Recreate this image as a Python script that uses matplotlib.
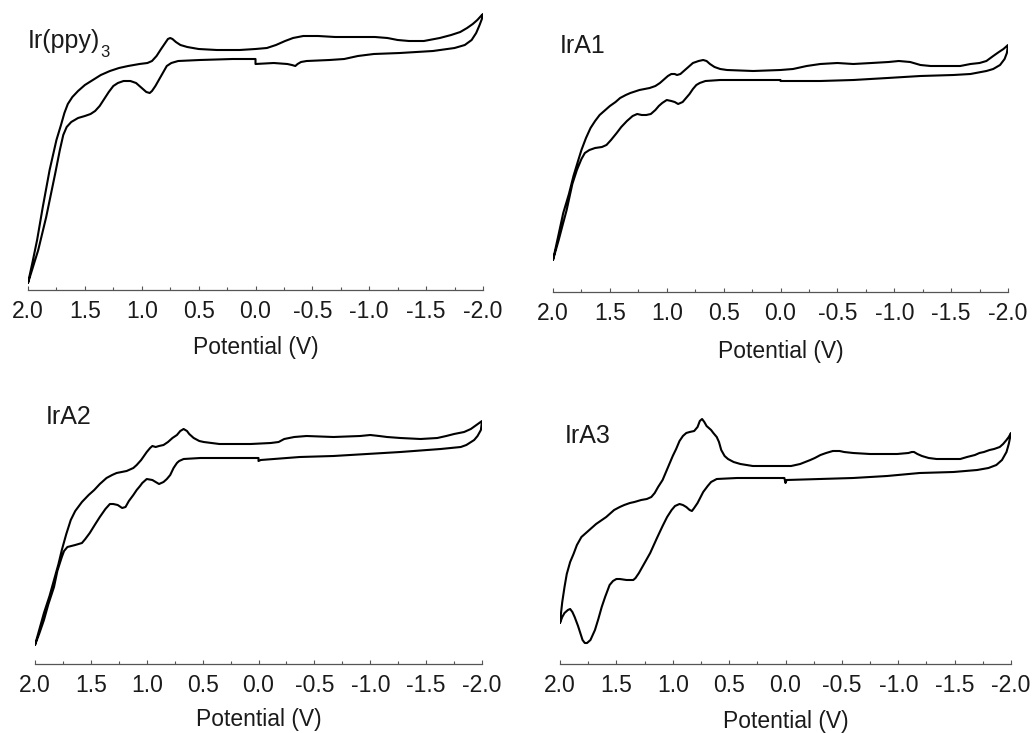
import matplotlib
matplotlib.use("Agg")
import matplotlib.pyplot as plt
from matplotlib.ticker import MultipleLocator

plt.rcParams['font.family'] = ['Liberation Sans', 'DejaVu Sans']

# ---------------- data (potential in V, current in arbitrary units) ----------------
names = ["Ir(ppy)", "IrA1", "IrA2", "IrA3"]
name_subscripts = ["3", "", "", ""]
x_ticks = [2.0, 1.5, 1.0, 0.5, 0.0, -0.5, -1.0, -1.5, -2.0]
x_ticklabels = ["2.0", "1.5", "1.0", "0.5", "0.0", "-0.5", "-1.0", "-1.5", "-2.0"]
x_label = "Potential (V)"

v_irppy = [2.00, 1.96, 1.92, 1.87, 1.81, 1.75, 1.71, 1.68, 1.65, 1.61, 1.56, 1.50, 1.43, 1.36,
           1.28, 1.20, 1.12, 1.02, 0.95, 0.91, 0.87, 0.83, 0.80, 0.77, 0.75, 0.73, 0.70, 0.66,
           0.60, 0.50, 0.34, 0.14, 0.00, -0.10, -0.18, -0.26, -0.33, -0.42, -0.55, -0.70,
           -0.90, -1.05, -1.16, -1.25, -1.35, -1.48, -1.62, -1.72, -1.80, -1.86, -1.91, -1.95,
           -1.99, -2.00,
           -1.99, -1.97, -1.94, -1.90, -1.84, -1.75, -1.56, -1.27, -1.04, -0.90, -0.78, -0.65,
           -0.45, -0.40, -0.37, -0.35, -0.32, -0.28, -0.16, 0.00, 0.00, 0.20, 0.49, 0.68, 0.74,
           0.78, 0.81, 0.85, 0.88, 0.91, 0.93, 0.96, 1.00, 1.05, 1.10, 1.16, 1.21, 1.25, 1.29,
           1.33, 1.37, 1.41, 1.45, 1.50, 1.56, 1.62, 1.66, 1.69, 1.72, 1.76, 1.80, 1.84, 1.91,
           2.00]
i_irppy = [7, 28, 50, 83, 120, 150, 165, 177, 186, 193, 199, 205, 210, 215,
           219, 222, 224, 226, 227, 229, 234, 241, 246, 251, 252, 251, 248, 245,
           243, 241, 240, 240, 241, 242, 245, 249, 252, 254, 254, 253,
           253, 253, 252, 250, 249, 249, 252, 255, 258, 262, 266, 270,
           275, 276,
           271, 265, 257, 250, 245, 242, 239, 237, 236, 234, 231, 230,
           229, 228, 226, 224, 225, 226, 227, 226, 231, 231, 230, 229, 227,
           224, 218, 210, 204, 199, 197, 198, 202, 207, 209, 209, 207, 204, 198,
           191, 184, 179, 176, 174, 172, 168, 163, 155, 140, 117, 95, 73, 40,
           7]

v_ira1 = [2.00, 1.95, 1.91, 1.86, 1.82, 1.78, 1.75, 1.71, 1.67, 1.63, 1.59, 1.54, 1.50, 1.45,
          1.41, 1.36, 1.32, 1.24, 1.15, 1.10, 1.06, 1.02, 0.99, 0.96, 0.93, 0.91, 0.88, 0.85,
          0.81, 0.77, 0.72, 0.68, 0.65, 0.62, 0.58, 0.53, 0.47, 0.24, 0.00, -0.11, -0.23,
          -0.35, -0.50, -0.64, -0.80, -0.95, -1.04, -1.14, -1.23, -1.32, -1.45, -1.58, -1.67,
          -1.75, -1.81, -1.87, -1.92, -1.96, -2.00,
          -1.99, -1.97, -1.93, -1.87, -1.81, -1.67, -1.52, -1.23, -0.94, -0.64, -0.35, 0.00,
          0.00, 0.24, 0.53, 0.66, 0.71, 0.74, 0.77, 0.80, 0.83, 0.86, 0.90, 0.93, 0.96, 1.00,
          1.04, 1.07, 1.10, 1.14, 1.18, 1.22, 1.26, 1.30, 1.35, 1.40, 1.44, 1.49, 1.53, 1.57,
          1.63, 1.68, 1.72, 1.75, 1.79, 1.83, 1.88, 1.92, 1.95, 2.00]
i_ira1 = [32, 58, 79, 98, 116, 131, 142, 154, 164, 171, 177, 182, 186, 190,
          194, 197, 199, 202, 204, 206, 209, 213, 216, 218, 218, 217, 218, 221,
          225, 229, 231, 232, 231, 228, 225, 223, 222, 221, 222, 223, 226,
          228, 229, 228, 229, 230, 231, 230, 227, 226, 226, 226, 228,
          229, 231, 236, 240, 243, 247,
          239, 233, 227, 223, 221, 218, 217, 216, 214, 212, 211, 211,
          212, 212, 212, 211, 209, 207, 203, 198, 194, 190, 188, 190, 191, 192,
          189, 186, 182, 178, 177, 177, 178, 176, 171, 165, 159, 152, 147, 145,
          144, 142, 139, 133, 122, 108, 82, 65, 52, 32]

v_ira2 = [2.00, 1.96, 1.92, 1.87, 1.83, 1.79, 1.76, 1.72, 1.68, 1.64, 1.58, 1.52, 1.47, 1.42,
          1.36, 1.31, 1.27, 1.18, 1.12, 1.09, 1.05, 1.00, 0.97, 0.95, 0.92, 0.89, 0.85, 0.81,
          0.77, 0.73, 0.70, 0.67, 0.64, 0.62, 0.58, 0.53, 0.49, 0.35, 0.22, 0.07, -0.11,
          -0.18, -0.23, -0.32, -0.43, -0.67, -0.91, -1.00, -1.08, -1.15, -1.27, -1.45, -1.60,
          -1.68, -1.75, -1.84, -1.90, -1.95, -2.00,
          -1.99, -1.96, -1.93, -1.86, -1.81, -1.63, -1.27, -0.97, -0.67, -0.37, -0.02, 0.00,
          0.00, 0.22, 0.52, 0.67, 0.71, 0.73, 0.76, 0.79, 0.82, 0.85, 0.89, 0.92, 0.95, 1.00,
          1.04, 1.06, 1.09, 1.12, 1.16, 1.19, 1.22, 1.26, 1.30, 1.33, 1.37, 1.42, 1.46, 1.51,
          1.55, 1.58, 1.64, 1.71, 1.74, 1.76, 1.80, 1.83, 1.88, 1.92, 1.96, 2.00]
i_ira2 = [19, 35, 51, 68, 84, 100, 114, 130, 144, 153, 162, 169, 174, 180,
          186, 189, 191, 193, 196, 199, 204, 212, 216, 218, 217, 218, 219, 222,
          226, 229, 233, 235, 233, 230, 226, 223, 222, 220, 220, 220, 221,
          222, 225, 227, 228, 227, 228, 229, 228, 227, 226, 225, 226,
          228, 230, 232, 235, 239, 243,
          234, 228, 224, 219, 217, 215, 212, 210, 208, 207, 204, 203,
          206, 206, 206, 205, 203, 201, 196, 189, 185, 182, 180, 182, 184, 185,
          181, 178, 174, 169, 163, 157, 156, 159, 160, 160, 155, 147, 140, 131,
          125, 121, 119, 117, 113, 107, 93, 77, 60, 44, 31, 19]

v_ira3 = [2.00, 1.98, 1.96, 1.93, 1.91, 1.89, 1.87, 1.84, 1.82, 1.80, 1.78, 1.76, 1.73, 1.71,
          1.69, 1.66, 1.63, 1.60, 1.56, 1.53, 1.50, 1.47, 1.41, 1.35, 1.33, 1.30, 1.26, 1.20,
          1.14, 1.09, 1.05, 1.01, 0.98, 0.94, 0.91, 0.88, 0.85, 0.83, 0.81, 0.78, 0.73, 0.69,
          0.66, 0.61, 0.43, 0.01, 0.00, -0.01, -0.31, -0.60, -0.90, -1.19, -1.49, -1.70,
          -1.80, -1.87, -1.92, -1.96, -1.98, -2.00,
          -1.98, -1.96, -1.93, -1.90, -1.85, -1.81, -1.76, -1.72, -1.68, -1.61, -1.55, -1.49,
          -1.40, -1.34, -1.27, -1.21, -1.17, -1.14, -1.12, -1.09, -0.99, -0.75, -0.60, -0.52,
          -0.48, -0.42, -0.36, -0.31, -0.26, -0.22, -0.13, -0.05, 0.05, 0.29, 0.40, 0.46,
          0.51, 0.54, 0.57, 0.59, 0.61, 0.64, 0.66, 0.70, 0.72, 0.74, 0.76, 0.78, 0.81, 0.85,
          0.88, 0.91, 0.94, 0.97, 1.00, 1.03, 1.06, 1.09, 1.13, 1.16, 1.19, 1.23, 1.28, 1.34,
          1.38, 1.43, 1.47, 1.52, 1.59, 1.68, 1.76, 1.81, 1.85, 1.88, 1.91, 1.94, 1.96, 1.98,
          1.99, 2.00]
i_ira3 = [41, 47, 51, 54, 55, 52, 47, 38, 31, 24, 21, 21, 24, 29,
          34, 45, 57, 67, 79, 83, 85, 85, 84, 84, 86, 91, 99, 111,
          126, 138, 147, 154, 158, 160, 159, 157, 154, 153, 156, 161, 172, 178,
          182, 185, 186, 186, 181, 184, 185, 186, 188, 191, 192, 194,
          196, 199, 204, 212, 220, 231,
          227, 224, 220, 217, 215, 214, 212, 211, 209, 207, 205, 205,
          205, 205, 206, 208, 210, 212, 212, 211, 210, 210, 211, 212,
          213, 213, 211, 209, 206, 204, 200, 198, 198, 198, 200, 202,
          205, 208, 214, 222, 227, 231, 234, 238, 242, 245, 243, 237, 233, 232,
          231, 228, 223, 215, 208, 200, 192, 184, 177, 171, 167, 165, 164, 162,
          161, 159, 157, 154, 147, 140, 132, 127, 119, 110, 102, 90, 77, 62,
          52, 41]

potentials = [v_irppy, v_ira1, v_ira2, v_ira3]
currents = [i_irppy, i_ira1, i_ira2, i_ira3]

# ---------------- layout ----------------
W, H = 1034, 733
fig = plt.figure(figsize=(W / 100, H / 100), dpi=100)

# (left, right, top, bottom) in pixels
boxes = [(28, 483, 10, 290), (553, 1008, 12, 292), (35, 482, 384, 664), (560, 1011, 384, 664)]
name_pos = [(28, 48), (560, 53), (46, 424), (565, 443)]  # (left px, baseline px)
xlabel_top = [336, 340, 708, 710]

for k in range(4):
    l, r, t, b = boxes[k]
    ax = fig.add_axes([l / W, (H - b) / H, (r - l) / W, (b - t) / H])
    ax.plot(potentials[k], currents[k], color='black', lw=1.5,
            solid_joinstyle='round', solid_capstyle='round')
    ax.set_xlim(2.0, -2.0)
    ax.set_ylim(0, b - t)
    for s in ['top', 'left', 'right']:
        ax.spines[s].set_visible(False)
    ax.spines['bottom'].set_color('#555555')
    ax.spines['bottom'].set_linewidth(0.9)
    ax.set_yticks([])
    ax.set_xticks(x_ticks)
    ax.set_xticklabels(x_ticklabels)
    ax.xaxis.set_minor_locator(MultipleLocator(0.25))
    ax.tick_params(axis='x', which='major', direction='in', length=3.2, width=0.8,
                   color='#555555', pad=7.5, labelsize=16.5, labelcolor='#1a1a1a')
    ax.tick_params(axis='x', which='minor', direction='in', length=2.0, width=0.8,
                   color='#555555')
    ax.set_xlabel(x_label, fontsize=16.5, color='#1a1a1a')
    ax.xaxis.set_label_coords(0.5, -(xlabel_top[k] - b) / (b - t))
    nx, ny = name_pos[k]
    t1 = ax.text((nx - l) / (r - l), (b - ny) / (b - t), names[k], transform=ax.transAxes,
                 fontsize=18, va='baseline', ha='left', color='#1a1a1a')
    if name_subscripts[k]:
        ax.annotate(name_subscripts[k], xy=(1, 0), xycoords=t1, xytext=(0, -4),
                    textcoords='offset pixels', fontsize=12, va='baseline', ha='left',
                    color='#1a1a1a')
    ax.patch.set_visible(False)

fig.savefig("out.png", dpi=100)
